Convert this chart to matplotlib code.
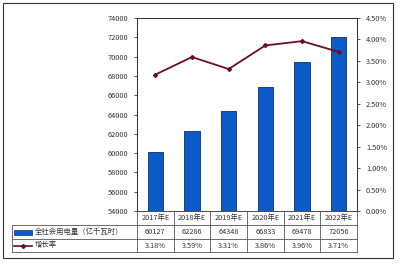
import matplotlib
matplotlib.use("Agg")
import matplotlib.pyplot as plt
from matplotlib.patches import Rectangle
from matplotlib.lines import Line2D

plt.rcParams['font.family'] = ['Noto Sans CJK SC', 'DejaVu Sans']

categories = ["2017年E", "2018年E", "2019年E", "2020年E", "2021年E", "2022年E"]
consumption = [60127, 62286, 64348, 66833, 69478, 72056]
growth = [3.18, 3.59, 3.31, 3.86, 3.96, 3.71]
series_names = ["全社会用电量（亿千瓦时）", "增长率"]

W, H = 400, 265
fig = plt.figure(figsize=(W / 100, H / 100), dpi=100)
fig.patch.set_facecolor("white")

L, R, T, B = 137, 357, 18, 211
ax = fig.add_axes([L / W, 1 - B / H, (R - L) / W, (B - T) / H])
n = len(categories)
x = list(range(n))
bar_color = "#0A5AC8"
line_color = "#6B1020"
ax.bar(x, consumption, width=0.42, color=bar_color, edgecolor="#0B2F6B", linewidth=0.6, zorder=2)
ax.set_xlim(-0.5, n - 0.5)
ax.set_ylim(54000, 74000)
ax.set_yticks(range(54000, 74001, 2000))
ax.set_xticks([])
ax.tick_params(axis="y", labelsize=5.3, colors="#333333", length=2.5, width=0.6, pad=4)
for s in ax.spines.values():
    s.set_linewidth(0.7)
    s.set_color("#333333")

ax2 = ax.twinx()
ax2.plot(x, growth, color=line_color, linewidth=1.3, marker="D", markersize=2, zorder=3)
ax2.set_ylim(0, 4.5)
ax2.set_yticks([i * 0.5 for i in range(10)])
ax2.set_yticklabels([f"{i * 0.5:.2f}%" for i in range(10)])
ax2.tick_params(axis="y", labelsize=5.3, colors="#333333", length=2.5, width=0.6, pad=4)
for s in ax2.spines.values():
    s.set_linewidth(0.7)
    s.set_color("#333333")

# outer border
fig.add_artist(Rectangle((3 / W, 1 - 258 / H), 390 / W, 255 / H, transform=fig.transFigure,
                         fill=False, edgecolor="#333333", linewidth=0.8))

# data table
def fx(px):
    return px / W

def fy(py):
    return 1 - py / H

rows = [211, 225, 239, 252]
col_w = (R - L) / n
tl = 12
lc = "#555555"
lw = 0.6
fig.add_artist(Line2D([fx(L), fx(R)], [fy(rows[0]), fy(rows[0])], color=lc, lw=lw))
for r in rows[1:]:
    fig.add_artist(Line2D([fx(tl), fx(R)], [fy(r), fy(r)], color=lc, lw=lw))
fig.add_artist(Line2D([fx(tl), fx(tl)], [fy(rows[1]), fy(rows[3])], color=lc, lw=lw))
for i in range(n + 1):
    xv = L + i * col_w
    fig.add_artist(Line2D([fx(xv), fx(xv)], [fy(rows[0]), fy(rows[3])], color=lc, lw=lw))

fs = 5.3
for i in range(n):
    cx = fx(L + (i + 0.5) * col_w)
    fig.text(cx, fy((rows[0] + rows[1]) / 2), categories[i], ha="center", va="center", fontsize=fs, color="#333333")
    fig.text(cx, fy((rows[1] + rows[2]) / 2), f"{consumption[i]}", ha="center", va="center", fontsize=fs, color="#333333")
    fig.text(cx, fy((rows[2] + rows[3]) / 2), f"{growth[i]:.2f}%", ha="center", va="center", fontsize=fs, color="#333333")

# legend keys
ym = (rows[1] + rows[2]) / 2
fig.add_artist(Rectangle((fx(14), fy(ym + 2.5)), 18 / W, 5 / H, transform=fig.transFigure,
                         facecolor=bar_color, edgecolor="#0B2F6B", linewidth=0.5))
fig.text(fx(35), fy(ym), series_names[0], ha="left", va="center", fontsize=fs, color="#333333")
ym2 = (rows[2] + rows[3]) / 2
fig.add_artist(Line2D([fx(14), fx(23), fx(32)], [fy(ym2)] * 3, color=line_color, lw=1.2,
                      marker="D", markersize=2, markevery=[1], transform=fig.transFigure))
fig.text(fx(35), fy(ym2), series_names[1], ha="left", va="center", fontsize=fs, color="#333333")

fig.savefig("out.png", dpi=100, facecolor="white")
